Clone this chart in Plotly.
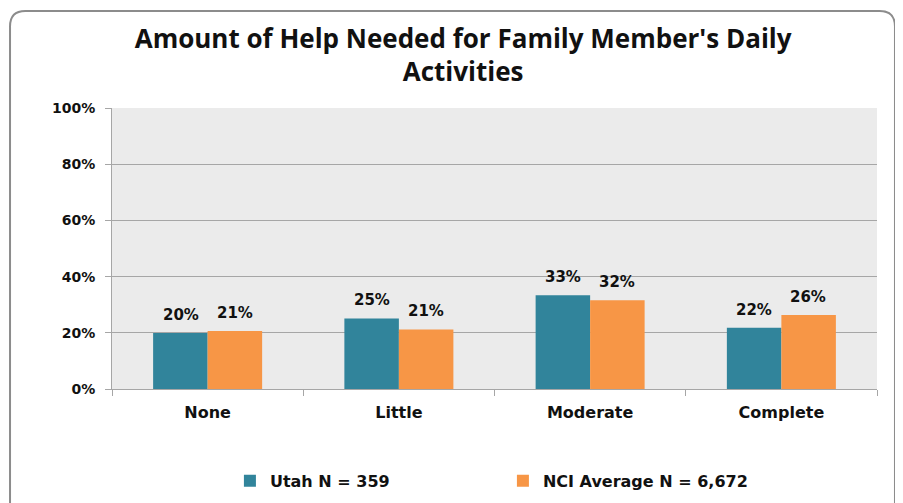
import plotly.graph_objects as go

categories = ["None", "Little", "Moderate", "Complete"]
utah_pct = [19.9, 25.1, 33.4, 21.8]
nci_pct = [20.6, 21.2, 31.6, 26.3]
series_names = ["Utah N = 359", "NCI Average N = 6,672"]
y_ticks = [0, 20, 40, 60, 80, 100]

TEAL = "#31849B"
ORANGE = "#F79646"
LABEL_FONT = "DejaVu Sans"

fig = go.Figure()
annotations = []
for name, vals, color, shift in [
    (series_names[0], utah_pct, TEAL, -27),
    (series_names[1], nci_pct, ORANGE, 27),
]:
    fig.add_trace(
        go.Bar(
            x=categories,
            y=vals,
            name=f"<b>{name}</b>",
            marker=dict(color=color, line=dict(width=0)),
            hoverinfo="skip",
        )
    )
    # value labels sit a little higher above the bars than plotly's outside text
    for cat, v in zip(categories, vals):
        annotations.append(
            dict(
                x=cat,
                y=v,
                xref="x",
                yref="y",
                text=f"<b>{round(v)}%</b>",
                showarrow=False,
                xshift=shift,
                yshift=7,
                yanchor="bottom",
                font=dict(family=LABEL_FONT, size=15, color="#111111"),
            )
        )

# rounded frame of the chart area (bottom edge falls off the picture)
x0, x1, yt, yb = -0.1333, 1.0235, 1.345, -0.45
rx, ry = 0.02, 0.055
frame = (
    f"M {x0},{yb} L {x0},{yt - ry} Q {x0},{yt} {x0 + rx},{yt} "
    f"L {x1 - rx},{yt} Q {x1},{yt} {x1},{yt - ry} L {x1},{yb}"
)

fig.update_layout(
    width=895,
    height=495,
    margin=dict(l=104, r=26, t=100, b=114),
    paper_bgcolor="white",
    plot_bgcolor="#EBEBEB",
    barmode="group",
    bargap=0.43,
    bargroupgap=0,
    title=dict(
        text="<b>Amount of Help Needed for Family Member's Daily<br>Activities</b>",
        font=dict(family="Open Sans", size=26, color="#111111"),
        x=0.459,
        xref="paper",
        xanchor="center",
        y=0.92,
        yref="container",
        yanchor="middle",
    ),
    xaxis=dict(
        showline=True,
        linecolor="#A6A6A6",
        ticks="outside",
        tickson="boundaries",
        ticklen=6,
        tickcolor="#A6A6A6",
        tickfont=dict(family=LABEL_FONT, size=16, color="#111111"),
        ticklabelstandoff=9,
        tickprefix="<b>",
        ticksuffix="</b>",
    ),
    yaxis=dict(
        range=[0, 100],
        tickvals=y_ticks,
        ticktext=[f"<b>{v}%</b>" for v in y_ticks],
        showline=True,
        linecolor="#A6A6A6",
        ticks="outside",
        ticklen=6,
        tickcolor="#A6A6A6",
        gridcolor="#A6A6A6",
        gridwidth=1,
        zeroline=False,
        ticklabelstandoff=7,
        tickfont=dict(family=LABEL_FONT, size=14, color="#111111"),
    ),
    legend=dict(
        orientation="h",
        x=0.511,
        xanchor="center",
        y=0.045,
        yref="container",
        yanchor="middle",
        font=dict(family=LABEL_FONT, size=16, color="#111111"),
        entrywidth=228,
    ),
    annotations=annotations,
    shapes=[
        dict(
            type="path",
            path=frame,
            xref="paper",
            yref="paper",
            line=dict(color="#8C8C8C", width=2),
            layer="below",
        )
    ],
)

fig.write_html("out.html")
